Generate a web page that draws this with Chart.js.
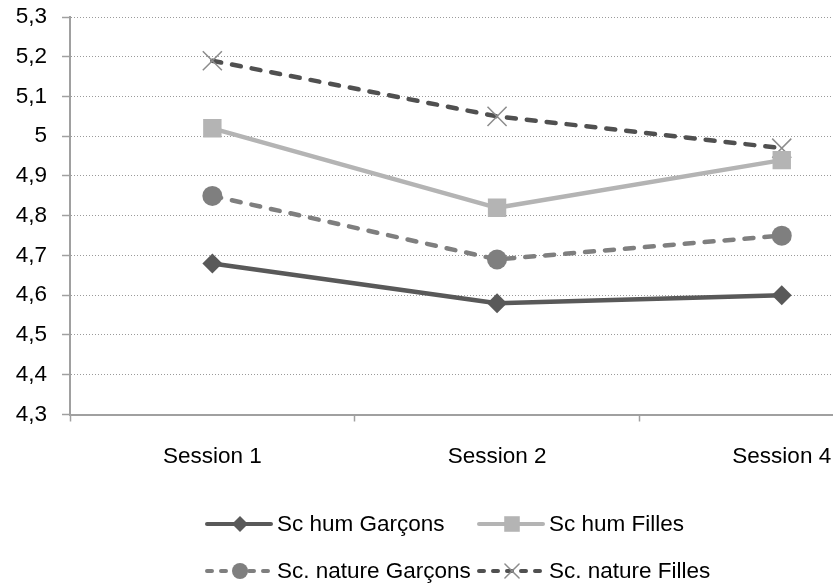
<!DOCTYPE html>
<html>
<head>
<meta charset="utf-8">
<script src="https://cdn.jsdelivr.net/npm/chart.js@4.4.1/dist/chart.umd.min.js"></script>
<style>
  html, body { margin: 0; padding: 0; background: #fff; }
  #wrap { width: 833px; height: 586px; }
</style>
</head>
<body>
<div id="wrap"><canvas id="chart" width="833" height="586"></canvas></div>
<script>
// categories and values
const sessions = ["Session 1", "Session 2", "Session 4"];
const yTickValues = [4.3, 4.4, 4.5, 4.6, 4.7, 4.8, 4.9, 5.0, 5.1, 5.2, 5.3];
const seriesNames = ["Sc hum Garçons", "Sc hum Filles", "Sc. nature Garçons", "Sc. nature Filles"];
const humGarcons = [4.68, 4.58, 4.60];
const humFilles = [5.02, 4.82, 4.94];
const natureGarcons = [4.85, 4.69, 4.75];
const natureFilles = [5.19, 5.05, 4.97];

const FONT = "'Liberation Sans', Arial, sans-serif";
const FONT_SIZE = 22.5;
const AXIS = "#a0a0a0";

const styles = [
    { color: "#595959", dash: [], legendDash: [], pointStyle: "rectRot", radius: 10, legendRadius: 8, border: 0 },
    { color: "#b4b4b4", dash: [], legendDash: [], pointStyle: "rect", radius: 13, legendRadius: 11, border: 0 },
    { color: "#7f7f7f", dash: [9, 11], legendDash: [5, 9], pointStyle: "circle", radius: 10, legendRadius: 8, border: 0 },
    { color: "#505050", dash: [9, 11], legendDash: [5, 9], pointStyle: "crossRot", radius: 13.5, legendRadius: 10, border: 1.5, markerColor: "#8c8c8c" }
];

const seriesValues = [humGarcons, humFilles, natureGarcons, natureFilles];

Chart.defaults.font.family = FONT;
Chart.defaults.font.size = FONT_SIZE;
Chart.defaults.color = "#000";

// x positions are the category indexes; boundaries sit half way between them
const xTicks = [];
sessions.forEach((s, i) => { xTicks.push(i - 0.5, i); });

function fmt(v) {
    return String(Math.round(v * 10) / 10).replace(".", ",");
}

// legend laid out in two columns like the original
const gridLegend = {
    id: "gridLegend",
    afterDraw(chart) {
        const ctx = chart.ctx;
        const cols = [205, 477];
        const rows = [524, 571];
        chart.data.datasets.forEach((ds, k) => {
            const st = styles[k];
            const x0 = cols[k % 2];
            const y = rows[Math.floor(k / 2)];
            ctx.save();
            ctx.strokeStyle = st.color;
            ctx.lineWidth = 4;
            ctx.lineCap = "round";
            ctx.setLineDash(st.legendDash);
            ctx.beginPath();
            ctx.moveTo(x0 + 2, y);
            ctx.lineTo(x0 + 66, y);
            ctx.stroke();
            ctx.setLineDash([]);
            ctx.fillStyle = st.color;
            ctx.strokeStyle = st.markerColor || st.color;
            ctx.lineWidth = st.border;
            Chart.helpers.drawPoint(ctx, {
                pointStyle: st.pointStyle, radius: st.legendRadius, rotation: 0, borderWidth: st.border
            }, x0 + 35, y);
            ctx.fillStyle = "#000";
            ctx.font = FONT_SIZE + "px " + FONT;
            ctx.textBaseline = "middle";
            ctx.textAlign = "left";
            ctx.fillText(ds.label, x0 + 72, y + 1);
            ctx.restore();
        });
    }
};

new Chart(document.getElementById("chart"), {
    type: "line",
    data: {
        datasets: seriesNames.map((name, k) => ({
            label: name,
            data: seriesValues[k].map((v, i) => ({ x: i, y: v })),
            borderColor: styles[k].color,
            backgroundColor: styles[k].color,
            borderWidth: 4.5,
            borderDash: styles[k].dash,
            borderCapStyle: "round",
            borderJoinStyle: "round",
            pointStyle: styles[k].pointStyle,
            pointRadius: styles[k].radius,
            pointHoverRadius: styles[k].radius,
            pointBackgroundColor: styles[k].color,
            pointBorderColor: styles[k].markerColor || styles[k].color,
            pointBorderWidth: styles[k].border,
            tension: 0,
            fill: false
        }))
    },
    options: {
        responsive: false,
        animation: false,
        devicePixelRatio: 1,
        // the plot runs off the right edge in the original
        layout: { autoPadding: false, padding: { top: 17, left: 0, right: 0, bottom: 0 } },
        plugins: {
            legend: { display: false },
            tooltip: { enabled: false }
        },
        scales: {
            x: {
                type: "linear",
                min: -0.5,
                max: 2.18,
                afterBuildTicks: s => { s.ticks = xTicks.map(v => ({ value: v })); },
                afterFit: s => { s.height = 171.5; s.paddingLeft = 0; s.paddingRight = 0; },
                grid: {
                    drawOnChartArea: false,
                    drawTicks: true,
                    tickLength: 7,
                    tickWidth: 1.5,
                    color: AXIS,
                    tickColor: c => (c.tick && Number.isInteger(c.tick.value)) ? "rgba(0,0,0,0)" : AXIS
                },
                border: { color: AXIS, width: 2 },
                ticks: {
                    padding: 22,
                    maxRotation: 0,
                    autoSkip: false,
                    callback: v => Number.isInteger(v) ? sessions[v] : ""
                }
            },
            y: {
                min: 4.3,
                max: 5.3,
                afterBuildTicks: s => { s.ticks = yTickValues.map(v => ({ value: v })); },
                afterFit: s => { s.width = 70; s.paddingTop = 0; s.paddingBottom = 0; },
                grid: {
                    color: "#9a9a9a",
                    lineWidth: 1,
                    tickLength: 8,
                    tickWidth: 1.5,
                    tickColor: AXIS
                },
                border: { color: AXIS, width: 2, dash: [1, 2] },
                ticks: { padding: 15, callback: v => fmt(v) }
            }
        }
    },
    plugins: [gridLegend]
});
</script>
</body>
</html>
